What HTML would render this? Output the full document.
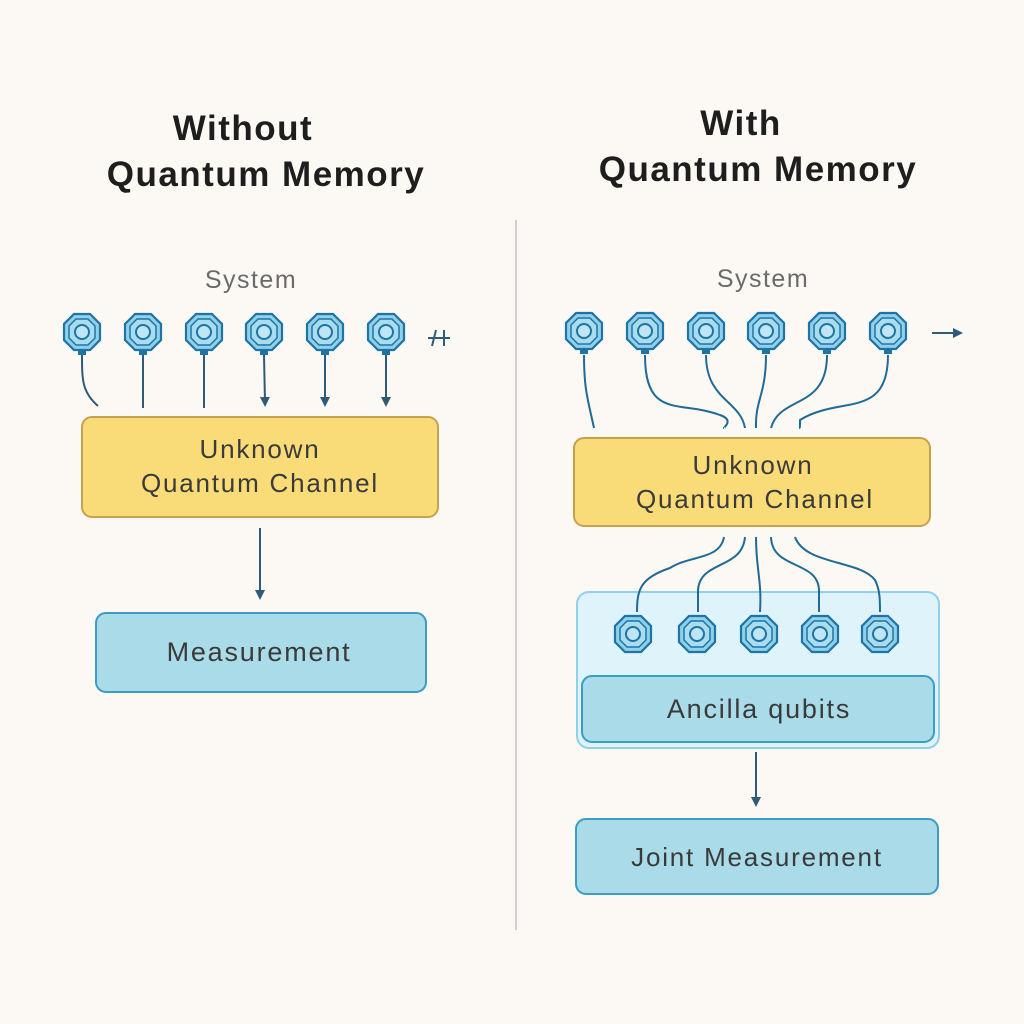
<!DOCTYPE html>
<html><head><meta charset="utf-8"><style>
html,body{margin:0;padding:0;background:#fcf9f4;}
svg{display:block}
text{font-family:"Liberation Sans",sans-serif;}
.t{font-size:35px;font-weight:bold;letter-spacing:1.5px;fill:#1e1e1e}
.b{font-size:26px;letter-spacing:1.8px;fill:#3a3a3a}
.s{font-size:25px;letter-spacing:1.5px;fill:#6a6a6a}
</style></head><body>
<svg width="1024" height="1024" viewBox="0 0 1024 1024" xmlns="http://www.w3.org/2000/svg">
<defs>
<g id="q">
<polygon points="-8,-18 8,-18 18,-8 18,8 8,18 -8,18 -18,8 -18,-8" fill="#8fd0ea" stroke="#1f74a3" stroke-width="2.2"/>
<polygon points="-6,-13 6,-13 13,-6 13,6 6,13 -6,13 -13,6 -13,-6" fill="#a9dcee" stroke="#1f74a3" stroke-width="1.5"/>
<circle r="7" fill="#bfe6f4" stroke="#1f74a3" stroke-width="2"/>
<rect x="-4" y="18" width="8" height="5" fill="#1f74a3"/>
</g>
<g id="a">
<polygon points="-8,-18 8,-18 18,-8 18,8 8,18 -8,18 -18,8 -18,-8" fill="#8fd0ea" stroke="#1f74a3" stroke-width="2.2"/>
<polygon points="-6,-13 6,-13 13,-6 13,6 6,13 -6,13 -13,6 -13,-6" fill="#a9dcee" stroke="#1f74a3" stroke-width="1.5"/>
<circle r="7" fill="#bfe6f4" stroke="#1f74a3" stroke-width="2"/>
</g>
<marker id="ar" markerWidth="10" markerHeight="10" refX="5" refY="5" orient="auto" markerUnits="userSpaceOnUse"><path d="M0,0 L10,5 L0,10 Z" fill="#2f5a78"/></marker>
</defs>

<text x="243" y="140" class="t" text-anchor="middle">Without</text>
<text x="266" y="186" class="t" text-anchor="middle">Quantum Memory</text>
<text x="741" y="135" class="t" text-anchor="middle">With</text>
<text x="758" y="181" class="t" text-anchor="middle">Quantum Memory</text>

<line x1="516" y1="220" x2="516" y2="930" stroke="#cfcfcf" stroke-width="2"/>

<text x="251" y="288" class="s" text-anchor="middle">System</text>
<text x="763" y="287" class="s" text-anchor="middle">System</text>

<g stroke="#2f5a78" stroke-width="2" fill="none">
<path d="M82,355 C82,380 82,392 98,406"/>
<line x1="143" y1="355" x2="143" y2="408"/>
<line x1="204" y1="355" x2="204" y2="408"/>
<line x1="264" y1="355" x2="265" y2="402" marker-end="url(#ar)"/>
<line x1="325" y1="355" x2="325" y2="402" marker-end="url(#ar)"/>
<line x1="386" y1="355" x2="386" y2="402" marker-end="url(#ar)"/>
<path d="M428,338 L450,338 M436,330 L432,346 M444,330 L444,346"/>
</g>
<use href="#q" x="82" y="332"/><use href="#q" x="143" y="332"/><use href="#q" x="204" y="332"/>
<use href="#q" x="264" y="332"/><use href="#q" x="325" y="332"/><use href="#q" x="386" y="332"/>

<rect x="82" y="417" width="356" height="100" rx="10" fill="#f9dc78" stroke="#c6a24e" stroke-width="2"/>
<text x="260" y="458" class="b" text-anchor="middle">Unknown</text>
<text x="260" y="492" class="b" text-anchor="middle">Quantum Channel</text>
<line x1="260" y1="528" x2="260" y2="595" stroke="#2f5a78" stroke-width="2" marker-end="url(#ar)"/>
<rect x="96" y="613" width="330" height="79" rx="10" fill="#a9dbe8" stroke="#3b9cc4" stroke-width="2"/>
<text x="259" y="661" class="b" text-anchor="middle" style="font-size:27px">Measurement</text>

<g stroke="#1f6a96" stroke-width="2" fill="none">
<path d="M584,355 C584,390 588,400 594,428"/>
<path d="M645,355 C645,420 680,400 720,415 C735,420 723,428 724,428"/>
<path d="M706,355 C706,400 740,400 745,428"/>
<path d="M766,355 C766,395 755,400 756,428"/>
<path d="M827,355 C827,410 780,395 771,428"/>
<path d="M888,355 C888,420 840,395 800,420 C800,428 800,428 799,428"/>
<line x1="932" y1="333" x2="958" y2="333" stroke="#2f5a78" marker-end="url(#ar)"/>
</g>
<use href="#q" x="584" y="331"/><use href="#q" x="645" y="331"/><use href="#q" x="706" y="331"/>
<use href="#q" x="766" y="331"/><use href="#q" x="827" y="331"/><use href="#q" x="888" y="331"/>

<rect x="574" y="438" width="356" height="88" rx="10" fill="#f9dc78" stroke="#c6a24e" stroke-width="2"/>
<text x="753" y="474" class="b" text-anchor="middle">Unknown</text>
<text x="755" y="508" class="b" text-anchor="middle">Quantum Channel</text>

<rect x="577" y="592" width="362" height="156" rx="12" fill="#dff3fa" stroke="#8fd0ea" stroke-width="2"/>
<g stroke="#1f6a96" stroke-width="2" fill="none">
<path d="M724,537 C720,560 690,555 670,568 C640,578 637,590 637,612"/>
<path d="M745,537 C742,570 700,560 698,590 L698,612"/>
<path d="M756,537 C756,570 762,580 760,612"/>
<path d="M771,537 C772,570 818,560 819,590 L819,612"/>
<path d="M795,537 C805,565 860,560 875,580 C880,590 880,600 880,612"/>
</g>
<use href="#a" x="633" y="634"/><use href="#a" x="697" y="634"/><use href="#a" x="759" y="634"/>
<use href="#a" x="820" y="634"/><use href="#a" x="880" y="634"/>
<rect x="582" y="676" width="352" height="66" rx="10" fill="#a9dbe8" stroke="#3b9cc4" stroke-width="2"/>
<text x="759" y="718" class="b" text-anchor="middle" style="font-size:27px">Ancilla qubits</text>
<line x1="756" y1="752" x2="756" y2="802" stroke="#2f5a78" stroke-width="2" marker-end="url(#ar)"/>
<rect x="576" y="819" width="362" height="75" rx="10" fill="#a9dbe8" stroke="#3b9cc4" stroke-width="2"/>
<text x="757" y="866" class="b" text-anchor="middle" style="font-size:26px">Joint Measurement</text>
</svg>
</body></html>
